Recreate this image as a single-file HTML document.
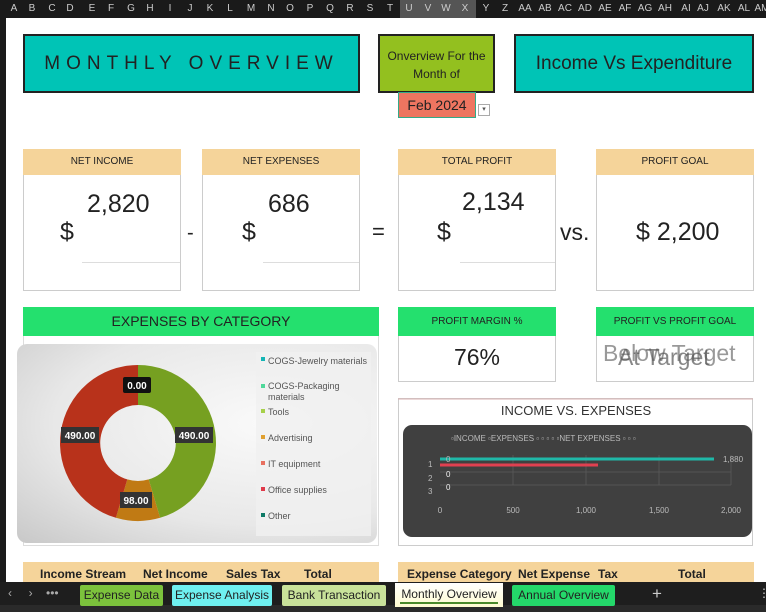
<!DOCTYPE html>
<html><head><meta charset="utf-8"><style>
*{margin:0;padding:0;box-sizing:border-box}
body{width:766px;height:612px;overflow:hidden;background:#fff;font-family:"Liberation Sans",sans-serif;position:relative}
.a{position:absolute}
.hdr{left:0;top:0;width:766px;height:18px;background:#1a1a1a}
.col{position:absolute;top:3px;font-size:10px;color:#ccc;transform:translateX(-50%)}
.box{position:absolute;border:2px solid #222}
.kh{position:absolute;background:#f5d49a;font-size:10px;text-align:center;color:#222}
.kb{position:absolute;border:1px solid #ccc;border-top:none;background:#fff}
.gh{position:absolute;background:#24e06e;text-align:center;color:#222}
</style></head><body>
<div class="a" style="left:0;top:0;width:6px;height:582px;background:#1a1a1a"></div>
<div class="a hdr"></div>
<div class="a" style="left:400px;top:0;width:76px;height:18px;background:#555"></div>
<div id="cols"></div>
<script>
var L=[["A",14],["B",32],["C",52],["D",70],["E",92],["F",111],["G",131],["H",150],["I",170],["J",190],["K",210],["L",230],["M",251],["N",271],["O",290],["P",310],["Q",330],["R",350],["S",370],["T",390],["U",409],["V",428],["W",446],["X",465],["Y",486],["Z",505],["AA",525],["AB",545],["AC",565],["AD",585],["AE",605],["AF",625],["AG",645],["AH",665],["AI",686],["AJ",703],["AK",724],["AL",744],["AM",762]];
var h="";L.forEach(function(c){h+='<div class="col" style="left:'+c[1]+'px">'+c[0]+'</div>';});
document.getElementById("cols").innerHTML=h;
</script>

<div class="box" style="left:23px;top:34px;width:337px;height:59px;background:#00c4b6;font-size:19px;letter-spacing:6px;text-align:center;line-height:55px;color:#222">MONTHLY OVERVIEW</div>
<div class="box" style="left:378px;top:34px;width:117px;height:59px;background:#93c01f;font-size:12px;text-align:center;line-height:18px;padding-top:11px;color:#222">Onverview For the<br>Month of</div>
<div class="box" style="left:514px;top:34px;width:240px;height:59px;background:#00c4b6;font-size:19px;text-align:center;line-height:55px;color:#222">Income Vs Expenditure</div>
<div class="a" style="left:398px;top:92px;width:78px;height:26px;background:#ee7560;border:1px solid #3a8;font-size:14px;text-align:center;line-height:24px;color:#222">Feb 2024</div>
<div class="a" style="left:478px;top:104px;width:12px;height:12px;border:1px solid #aaa;font-size:7px;text-align:center;color:#555">▾</div>

<!-- KPI row -->
<div class="kh" style="left:23px;top:149px;width:158px;height:26px;line-height:26px">NET INCOME</div>
<div class="kb" style="left:23px;top:175px;width:158px;height:116px"></div>
<div class="kh" style="left:202px;top:149px;width:158px;height:26px;line-height:26px">NET EXPENSES</div>
<div class="kb" style="left:202px;top:175px;width:158px;height:116px"></div>
<div class="kh" style="left:398px;top:149px;width:158px;height:26px;line-height:26px">TOTAL PROFIT</div>
<div class="kb" style="left:398px;top:175px;width:158px;height:116px"></div>
<div class="kh" style="left:596px;top:149px;width:158px;height:26px;line-height:26px">PROFIT GOAL</div>
<div class="kb" style="left:596px;top:175px;width:158px;height:116px"></div>
<div class="a" style="left:82px;top:262px;width:98px;height:1px;background:#ddd"></div>
<div class="a" style="left:263px;top:262px;width:96px;height:1px;background:#ddd"></div>
<div class="a" style="left:460px;top:262px;width:95px;height:1px;background:#ddd"></div>
<div class="a" style="left:87px;top:190px;font-size:25px;color:#222">2,820</div>
<div class="a" style="left:60px;top:218px;font-size:25px;color:#222">$</div>
<div class="a" style="left:187px;top:222px;font-size:20px;color:#222">-</div>
<div class="a" style="left:268px;top:190px;font-size:25px;color:#222">686</div>
<div class="a" style="left:242px;top:218px;font-size:25px;color:#222">$</div>
<div class="a" style="left:372px;top:219px;font-size:22px;color:#222">=</div>
<div class="a" style="left:462px;top:188px;font-size:25px;color:#222">2,134</div>
<div class="a" style="left:437px;top:218px;font-size:25px;color:#222">$</div>
<div class="a" style="left:560px;top:219px;font-size:23px;color:#222">vs.</div>
<div class="a" style="left:636px;top:218px;font-size:25px;color:#222">$ 2,200</div>

<!-- second row -->
<div class="gh" style="left:23px;top:307px;width:356px;height:29px;line-height:29px;font-size:14px">EXPENSES BY CATEGORY</div>
<div class="a" style="left:23px;top:336px;width:356px;height:210px;border:1px solid #ddd;border-top:none"></div>
<div class="gh" style="left:398px;top:307px;width:158px;height:29px;line-height:29px;font-size:10px">PROFIT MARGIN %</div>
<div class="kb" style="left:398px;top:336px;width:158px;height:46px;text-align:center;font-size:23px;line-height:42px;color:#222">76%</div>
<div class="gh" style="left:596px;top:307px;width:158px;height:29px;line-height:29px;font-size:10px">PROFIT VS PROFIT GOAL</div>
<div class="kb" style="left:596px;top:336px;width:158px;height:46px"></div>
<div class="a" style="left:603px;top:340px;font-size:23px;color:#999">Below Target</div>
<div class="a" style="left:618px;top:344px;font-size:23px;color:#555;opacity:.7">At Target</div>

<!-- donut chart -->
<div class="a" style="left:17px;top:344px;width:360px;height:199px;border-radius:10px;background:radial-gradient(ellipse at 70% 40%,#fafafa 0%,#e8e8e8 60%,#c8c8c8 100%)"></div>
<div class="a" style="left:256px;top:352px;width:115px;height:184px;background:rgba(240,240,240,.8)"></div>
<svg class="a" style="left:0;top:0" width="766" height="612">
<path d="M138 365 A78 78 0 0 1 160.1 517.8 L148.7 479.4 A38 38 0 0 0 138 405 Z" fill="#76a021"/>
<path d="M160.1 517.8 A78 78 0 0 1 115.9 517.8 L127.3 479.4 A38 38 0 0 0 148.7 479.4 Z" fill="#c07a14"/>
<path d="M115.9 517.8 A78 78 0 0 1 138 365 L138 405 A38 38 0 0 0 127.3 479.4 Z" fill="#b8321b"/>
<g font-family="Liberation Sans" font-weight="bold" font-size="10" fill="#fff" text-anchor="middle">
<rect x="123" y="377" width="28" height="16" rx="2" fill="#111"/><text x="137" y="389">0.00</text>
<rect x="175" y="427" width="38" height="16" fill="#333"/><text x="194" y="439">490.00</text>
<rect x="61" y="427" width="38" height="16" fill="#333"/><text x="80" y="439">490.00</text>
<rect x="120" y="492" width="32" height="16" fill="#333"/><text x="136" y="504">98.00</text>
</g>
<g font-family="Liberation Sans" font-size="9" fill="#555">
<rect x="261" y="357" width="4" height="4" fill="#14b5b5"/><text x="268" y="364">COGS-Jewelry materials</text>
<rect x="261" y="384" width="4" height="4" fill="#4fd89a"/><text x="268" y="389">COGS-Packaging</text><text x="268" y="400">materials</text>
<rect x="261" y="409" width="4" height="4" fill="#a6d04a"/><text x="268" y="415">Tools</text>
<rect x="261" y="435" width="4" height="4" fill="#e0a030"/><text x="268" y="441">Advertising</text>
<rect x="261" y="461" width="4" height="4" fill="#e87060"/><text x="268" y="467">IT equipment</text>
<rect x="261" y="487" width="4" height="4" fill="#e03a4a"/><text x="268" y="493">Office supplies</text>
<rect x="261" y="513" width="4" height="4" fill="#0e7a66"/><text x="268" y="519">Other</text>
</g>

<!-- income vs expenses -->
<rect x="398.5" y="398.5" width="354" height="147" fill="#fff" stroke="#ccc"/>
<line x1="398" y1="399" x2="753" y2="399" stroke="#d9b0b0"/>
<text x="576" y="415" font-family="Liberation Sans" font-size="13" fill="#333" text-anchor="middle">INCOME VS. EXPENSES</text>
<rect x="403" y="425" width="349" height="112" rx="9" fill="#404040"/>
<g stroke="#555" stroke-width="1">
<line x1="513" y1="455" x2="513" y2="485"/><line x1="586" y1="455" x2="586" y2="485"/><line x1="659" y1="455" x2="659" y2="485"/><line x1="731" y1="455" x2="731" y2="485"/>
<line x1="440" y1="472" x2="731" y2="472"/><line x1="440" y1="485" x2="731" y2="485"/>
</g>
<line x1="440" y1="459" x2="714" y2="459" stroke="#1fb8a8" stroke-width="3"/>
<line x1="440" y1="465" x2="598" y2="465" stroke="#e04050" stroke-width="3"/>
<g font-family="Liberation Sans" font-size="8" fill="#bbb">
<text x="451" y="441">▫INCOME  ▫EXPENSES  ▫  ▫  ▫  ▫  ▫NET EXPENSES  ▫  ▫  ▫</text>
<text x="428" y="467">1</text><text x="428" y="481">2</text><text x="428" y="494">3</text>
<text x="446" y="462">0</text><text x="446" y="477" fill="#eee">0</text><text x="446" y="490" fill="#eee">0</text>
<text x="723" y="462">1,880</text>
<text x="440" y="513" text-anchor="middle">0</text><text x="513" y="513" text-anchor="middle">500</text><text x="586" y="513" text-anchor="middle">1,000</text><text x="659" y="513" text-anchor="middle">1,500</text><text x="731" y="513" text-anchor="middle">2,000</text>
</g>
</svg>

<!-- bottom tables -->
<div class="a" style="left:23px;top:562px;width:356px;height:20px;background:#f5d49a;font-size:12px;font-weight:bold;color:#222;line-height:24px">
<span class="a" style="left:17px">Income Stream</span><span class="a" style="left:120px">Net Income</span><span class="a" style="left:203px">Sales Tax</span><span class="a" style="left:281px">Total</span></div>
<div class="a" style="left:398px;top:562px;width:356px;height:20px;background:#f5d49a;font-size:12px;font-weight:bold;color:#222;line-height:24px">
<span class="a" style="left:9px">Expense Category</span><span class="a" style="left:120px">Net Expense</span><span class="a" style="left:200px">Tax</span><span class="a" style="left:280px">Total</span></div>

<!-- tab bar -->
<div class="a" style="left:0;top:582px;width:766px;height:30px;background:#1e1e1e"></div>
<div class="a" style="left:0;top:605px;width:766px;height:7px;background:#2a2a2a"></div>
<div class="a" style="left:8px;top:586px;font-size:12px;color:#aaa">‹&nbsp;&nbsp;&nbsp;&nbsp;&nbsp;›&nbsp;&nbsp;&nbsp;&nbsp;•••</div>
<div class="a" style="left:80px;top:585px;width:83px;height:21px;background:#7cc23c;border-radius:2px;font-size:12px;text-align:center;line-height:21px;color:#222">Expense Data</div>
<div class="a" style="left:172px;top:585px;width:100px;height:21px;background:#6ff0f0;border-radius:2px;font-size:12px;text-align:center;line-height:21px;color:#222">Expense Analysis</div>
<div class="a" style="left:282px;top:585px;width:104px;height:21px;background:#c9e29a;border-radius:2px;font-size:12px;text-align:center;line-height:21px;color:#222">Bank Transaction</div>
<div class="a" style="left:395px;top:583px;width:108px;height:24px;background:linear-gradient(#fff,#fffcd0);font-size:12px;text-align:center;line-height:22px;color:#222">Monthly Overview<div class="a" style="left:5px;bottom:3px;width:98px;height:2px;background:#4a8a2a"></div></div>
<div class="a" style="left:512px;top:585px;width:103px;height:21px;background:#24d86a;border-radius:2px;font-size:12px;text-align:center;line-height:21px;color:#222">Annual Overview</div>
<div class="a" style="left:652px;top:584px;font-size:17px;color:#ccc">+</div>
<div class="a" style="left:758px;top:586px;font-size:12px;color:#ccc">⋮</div>
</body></html>
